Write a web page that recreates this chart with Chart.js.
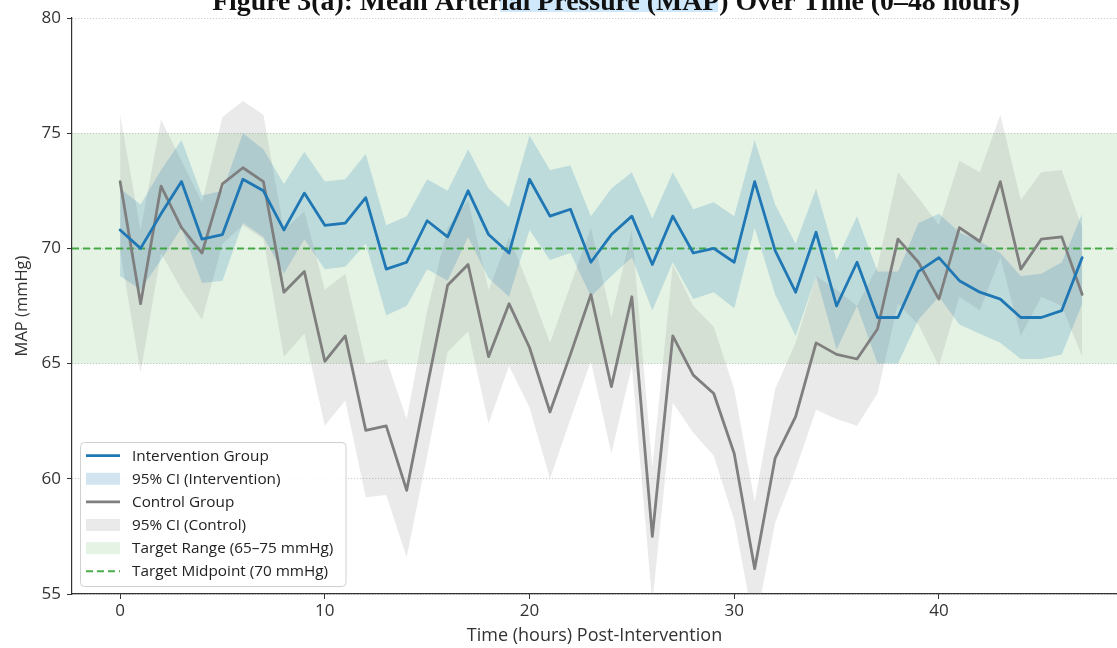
<!DOCTYPE html>
<html>
<head>
<meta charset="utf-8">
<script src="https://cdn.jsdelivr.net/npm/chart.js@4"></script>
<style>
  html, body { margin: 0; padding: 0; background: #ffffff; }
  #wrap { width: 1117px; height: 648px; position: relative; }
</style>
</head>
<body>
<div id="wrap"><canvas id="mapChart" width="1117" height="648"></canvas></div>
<script>
// Hours after the intervention
const hours = [0, 1, 2, 3, 4, 5, 6, 7, 8, 9, 10, 11, 12, 13, 14, 15, 16, 17, 18, 19, 20, 21, 22, 23,
               24, 25, 26, 27, 28, 29, 30, 31, 32, 33, 34, 35, 36, 37, 38, 39, 40, 41, 42, 43, 44, 45, 46, 47];

// Intervention group: mean MAP and 95% CI bounds (mmHg)
const interventionMean = [70.8, 70.0, 71.5, 72.9, 70.4, 70.6, 73.0, 72.5, 70.8, 72.4, 71.0, 71.1,
                          72.2, 69.1, 69.4, 71.2, 70.5, 72.5, 70.6, 69.8, 73.0, 71.4, 71.7, 69.4,
                          70.6, 71.4, 69.3, 71.4, 69.8, 70.0, 69.4, 72.9, 69.9, 68.1, 70.7, 67.5,
                          69.4, 67.0, 67.0, 69.0, 69.6, 68.6, 68.1, 67.8, 67.0, 67.0, 67.3, 69.6];
const interventionUpper = [72.6, 71.9, 73.4, 74.7, 72.3, 72.5, 75.0, 74.3, 72.8, 74.2, 72.9, 73.0,
                           74.1, 71.0, 71.4, 73.0, 72.5, 74.3, 72.6, 71.8, 74.9, 73.4, 73.6, 71.4,
                           72.6, 73.3, 71.3, 73.3, 71.7, 72.0, 71.4, 74.7, 71.9, 70.2, 72.6, 69.5,
                           71.4, 69.0, 69.0, 71.1, 71.5, 70.7, 70.3, 69.8, 68.8, 68.9, 69.4, 71.5];
const interventionLower = [68.8, 68.2, 69.5, 70.9, 68.5, 68.6, 71.1, 70.5, 68.9, 70.4, 69.1, 69.2,
                           70.2, 67.1, 67.5, 69.1, 68.6, 70.5, 68.7, 67.9, 70.8, 69.5, 69.8, 67.9,
                           68.8, 69.6, 67.3, 69.4, 67.8, 68.1, 67.4, 70.9, 68.0, 66.2, 68.8, 65.6,
                           67.5, 65.0, 65.0, 66.9, 67.9, 66.7, 66.3, 65.9, 65.2, 65.2, 65.4, 67.6];

// Control group: mean MAP and 95% CI bounds (mmHg)
const controlMean = [72.9, 67.6, 72.7, 70.9, 69.8, 72.8, 73.5, 72.9, 68.1, 69.0, 65.1, 66.2,
                     62.1, 62.3, 59.5, 64.0, 68.4, 69.3, 65.3, 67.6, 65.7, 62.9, 65.4, 68.0,
                     64.0, 67.9, 57.5, 66.2, 64.5, 63.7, 61.1, 56.1, 60.9, 62.7, 65.9, 65.4,
                     65.2, 66.5, 70.4, 69.4, 67.8, 70.9, 70.3, 72.9, 69.1, 70.4, 70.5, 68.0];
const controlUpper = [75.8, 70.8, 75.6, 73.8, 72.0, 75.7, 76.4, 75.8, 70.8, 71.6, 68.2, 68.9,
                      65.0, 65.2, 62.6, 67.3, 70.9, 72.1, 68.2, 70.5, 68.3, 65.9, 68.4, 70.9,
                      67.0, 70.8, 60.5, 69.3, 67.5, 66.6, 63.9, 59.0, 63.9, 65.9, 68.8, 68.2,
                      67.5, 69.2, 73.3, 72.2, 71.0, 73.8, 73.3, 75.8, 72.1, 73.3, 73.4, 70.9];
const controlLower = [69.9, 64.6, 69.8, 68.2, 66.9, 70.2, 71.0, 70.4, 65.3, 66.3, 62.3, 63.4,
                      59.2, 59.3, 56.6, 61.0, 65.5, 66.4, 62.4, 64.9, 63.1, 60.0, 62.6, 65.1,
                      61.1, 64.9, 54.6, 63.3, 62.0, 61.0, 58.2, 53.5, 58.1, 60.4, 63.0, 62.6,
                      62.3, 63.7, 67.6, 66.7, 64.9, 67.9, 67.3, 69.6, 66.2, 67.9, 67.5, 65.3];

// Target band and its midpoint (mmHg)
const targetRange = [65, 75];
const targetMidpoint = 70;

// Axis ticks
const xTicks = [0, 10, 20, 30, 40];
const yTicks = [55, 60, 65, 70, 75, 80];

// Text
const chartTitle = 'Figure 3(a): Mean Arterial Pressure (MAP) Over Time (0\u201348 hours)';
const xTitle = 'Time (hours) Post-Intervention';
const yTitle = 'MAP (mmHg)';
const legendLabels = ['Intervention Group', '95% CI (Intervention)', 'Control Group',
                      '95% CI (Control)', 'Target Range (65\u201375 mmHg)', 'Target Midpoint (70 mmHg)'];

// Styles
const BLUE = '#1f77b4';
const GRAY = '#7f7f7f';
const BLUE_FILL = 'rgba(31,119,180,0.2)';
const GRAY_FILL = 'rgba(128,128,128,0.17)';
const GREEN_FILL = 'rgba(44,160,44,0.12)';
const GREEN_DASH = 'rgba(44,160,44,0.85)';
const DASH = [7, 4];
const FONT = '"Open Sans", "DejaVu Sans", sans-serif';
const TEXT = '#333333';

// Target band (behind everything) and midpoint line (above the CI fills, below the mean lines)
const targetPlugin = {
  id: 'targetBand',
  beforeDatasetsDraw(chart) {
    const { ctx, chartArea: a, scales: { y } } = chart;
    const top = y.getPixelForValue(targetRange[1]);
    const bottom = y.getPixelForValue(targetRange[0]);
    ctx.save();
    ctx.fillStyle = GREEN_FILL;
    ctx.fillRect(a.left, top, a.right - a.left, bottom - top);
    ctx.restore();
  },
  beforeDatasetDraw(chart, args) {
    if (args.index !== 1) return;
    const { ctx, chartArea: a, scales: { y } } = chart;
    const py = y.getPixelForValue(targetMidpoint);
    ctx.save();
    ctx.strokeStyle = GREEN_DASH;
    ctx.lineWidth = 2;
    ctx.setLineDash(DASH);
    ctx.beginPath();
    ctx.moveTo(a.left, py);
    ctx.lineTo(a.right, py);
    ctx.stroke();
    ctx.restore();
  }
};

// Legend box in the lower-left corner of the plot
const legendPlugin = {
  id: 'cornerLegend',
  afterDraw(chart) {
    const { ctx } = chart;
    const styles = [
      { kind: 'line', color: BLUE },
      { kind: 'patch', color: BLUE_FILL },
      { kind: 'line', color: GRAY },
      { kind: 'patch', color: GRAY_FILL },
      { kind: 'patch', color: GREEN_FILL },
      { kind: 'dash', color: GREEN_DASH }
    ];
    const bx = 80.5, by = 442.5, bw = 265.5, bh = 144, r = 4;
    ctx.save();
    ctx.beginPath();
    ctx.moveTo(bx + r, by);
    ctx.arcTo(bx + bw, by, bx + bw, by + bh, r);
    ctx.arcTo(bx + bw, by + bh, bx, by + bh, r);
    ctx.arcTo(bx, by + bh, bx, by, r);
    ctx.arcTo(bx, by, bx + bw, by, r);
    ctx.closePath();
    ctx.fillStyle = 'rgba(255,255,255,0.85)';
    ctx.fill();
    ctx.strokeStyle = '#d0d0d0';
    ctx.lineWidth = 1;
    ctx.stroke();

    ctx.font = '15.3px ' + FONT;
    ctx.textBaseline = 'middle';
    ctx.textAlign = 'left';
    legendLabels.forEach((label, k) => {
      const cy = 455.7 + k * 23.1;
      const s = styles[k];
      const x0 = 86, x1 = 120;
      if (s.kind === 'patch') {
        ctx.fillStyle = '#ffffff';
        ctx.fillRect(x0, cy - 6, x1 - x0, 12);
        ctx.fillStyle = s.color;
        ctx.fillRect(x0, cy - 6, x1 - x0, 12);
      } else {
        ctx.strokeStyle = s.color;
        ctx.lineWidth = s.kind === 'dash' ? 2 : 2.8;
        ctx.setLineDash(s.kind === 'dash' ? DASH : []);
        ctx.beginPath();
        ctx.moveTo(x0, cy);
        ctx.lineTo(x1, cy);
        ctx.stroke();
        ctx.setLineDash([]);
      }
      ctx.fillStyle = '#222222';
      ctx.fillText(label, 132, cy + 0.5);
    });
    ctx.restore();
  }
};

// Figure title at the very top of the canvas
const titlePlugin = {
  id: 'figureTitle',
  afterDraw(chart) {
    const { ctx } = chart;
    ctx.save();
    ctx.fillStyle = '#cfe8fb';
    ctx.fillRect(500, 0, 218, 12);
    ctx.font = 'bold 27.8px "Liberation Serif", "Times New Roman", serif';
    ctx.fillStyle = '#111111';
    ctx.textAlign = 'center';
    ctx.textBaseline = 'alphabetic';
    ctx.fillText(chartTitle, 616, 10);
    ctx.restore();
  }
};

const ctx = document.getElementById('mapChart').getContext('2d');
new Chart(ctx, {
  type: 'line',
  data: {
    labels: hours,
    datasets: [
      { label: legendLabels[0], data: interventionMean, borderColor: BLUE, borderWidth: 2.8, fill: false },
      { label: legendLabels[2], data: controlMean, borderColor: GRAY, borderWidth: 2.8, fill: false },
      { label: legendLabels[1], data: interventionUpper, borderWidth: 0, borderColor: 'transparent',
        backgroundColor: BLUE_FILL, fill: '+1' },
      { label: 'ci-int-lower', data: interventionLower, borderWidth: 0, borderColor: 'transparent', fill: false },
      { label: legendLabels[3], data: controlUpper, borderWidth: 0, borderColor: 'transparent',
        backgroundColor: GRAY_FILL, fill: '+1' },
      { label: 'ci-ctrl-lower', data: controlLower, borderWidth: 0, borderColor: 'transparent', fill: false }
    ]
  },
  options: {
    responsive: false,
    animation: false,
    devicePixelRatio: 1,
    layout: { padding: { top: 18, left: 0, right: 0, bottom: 0 } },
    elements: { point: { radius: 0, hoverRadius: 0 }, line: { tension: 0, borderJoinStyle: 'round', borderCapStyle: 'round' } },
    plugins: { legend: { display: false }, tooltip: { enabled: false }, title: { display: false } },
    scales: {
      x: {
        type: 'linear',
        min: -2.35,
        max: 48.7,
        afterBuildTicks: s => { s.ticks = xTicks.map(v => ({ value: v })); },
        afterFit: s => { s.height = 54; },
        ticks: { font: { family: FONT, size: 17 }, color: TEXT, padding: 2, maxRotation: 0 },
        grid: { drawOnChartArea: false, drawTicks: true, tickLength: 5, tickColor: '#333333', tickWidth: 1 },
        border: { display: true, color: '#333333', width: 1.2 },
        title: { display: true, text: xTitle, color: TEXT, font: { family: FONT, size: 18 }, padding: { top: 0, bottom: 1.5 } }
      },
      y: {
        min: 55,
        max: 80,
        afterBuildTicks: s => { s.ticks = yTicks.map(v => ({ value: v })); },
        afterFit: s => { s.width = 72; },
        ticks: { font: { family: FONT, size: 17 }, color: TEXT, padding: 6 },
        grid: { color: 'rgba(0,0,0,0.28)', lineWidth: 0.9, tickLength: 5, tickColor: '#333333', tickWidth: 1, tickBorderDash: [] },
        border: { display: true, color: '#333333', width: 1.2, dash: [1, 2] },
        title: { display: true, text: yTitle, color: TEXT, font: { family: FONT, size: 16.5 }, padding: { top: 12, bottom: 0 } }
      }
    }
  },
  plugins: [targetPlugin, legendPlugin, titlePlugin]
});
</script>
</body>
</html>
